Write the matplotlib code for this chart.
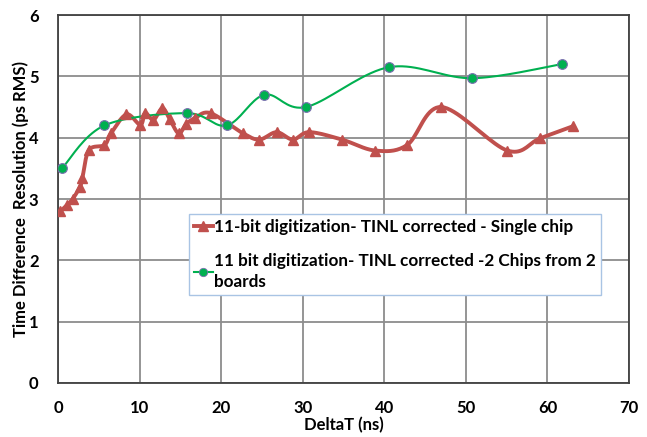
import numpy as np
import matplotlib
matplotlib.use("Agg")
import matplotlib.pyplot as plt
from matplotlib.lines import Line2D

plt.rcParams['font.family'] = ['Lato', 'DejaVu Sans']
plt.rcParams['font.weight'] = 'bold'

# Data
red_x = [0.3, 1.1, 1.8, 2.7, 3.0, 3.8, 5.7, 6.5, 8.4, 10.1, 10.7, 11.7, 12.8, 13.7,
         14.8, 15.7, 16.8, 18.7, 22.7, 24.7, 26.8, 28.8, 30.8, 34.8, 38.9, 42.8,
         47.0, 55.1, 59.1, 63.2]
red_y = [2.8, 2.9, 3.0, 3.2, 3.35, 3.8, 3.88, 4.07, 4.38, 4.21, 4.4, 4.29, 4.48, 4.3,
         4.07, 4.22, 4.32, 4.4, 4.07, 3.97, 4.09, 3.97, 4.09, 3.97, 3.79, 3.88,
         4.5, 3.79, 3.99, 4.19]
green_x = [0.5, 5.7, 15.8, 20.7, 25.3, 30.4, 40.6, 50.8, 61.8]
green_y = [3.5, 4.2, 4.4, 4.2, 4.7, 4.5, 5.15, 4.97, 5.2]

red_label = "11-bit digitization- TINL corrected - Single chip"
green_label = "11 bit digitization- TINL corrected -2 Chips from 2\nboards"
x_ticks = [0, 10, 20, 30, 40, 50, 60, 70]
y_ticks = [0, 1, 2, 3, 4, 5, 6]

RED = '#C0504D'
GREEN = '#00B050'

fig = plt.figure(figsize=(6.47, 4.37), dpi=100)
ax = fig.add_axes([0.0896, 0.1236, 0.8825, 0.842])
ax.set_xlim(0, 70)
ax.set_ylim(0, 6)


def smooth(xs, ys, n=20):
    # Bezier smoothing (Excel-like) done in scaled coordinates
    sx, sy = 571.0 / 70.0, 368.0 / 6.0
    P = np.column_stack([np.asarray(xs) * sx, np.asarray(ys) * sy])
    out = [P[0]]
    m = len(P)
    for i in range(m - 1):
        p0 = P[i - 1] if i > 0 else P[i]
        p1 = P[i]
        p2 = P[i + 1]
        p3 = P[i + 2] if i + 2 < m else P[i + 1]
        c1 = p1 + (p2 - p0) / 6.0
        c2 = p2 - (p3 - p1) / 6.0
        t = np.linspace(0, 1, n)[1:, None]
        seg = ((1 - t) ** 3) * p1 + 3 * ((1 - t) ** 2) * t * c1 + 3 * (1 - t) * t ** 2 * c2 + t ** 3 * p2
        out.extend(seg)
    out = np.array(out)
    return out[:, 0] / sx, out[:, 1] / sy


ax.grid(True, color='#8c8c8c', linewidth=1.3)
ax.set_axisbelow(True)

rx, ry = smooth(red_x, red_y)
ax.plot(rx, ry, color=RED, linewidth=2.8, zorder=3, solid_capstyle='round')
ax.plot(red_x, red_y, linestyle='none', marker='^', markersize=7.5,
        color=RED, markeredgecolor=RED, zorder=4)

gx, gy = smooth(green_x, green_y)
ax.plot(gx, gy, color=GREEN, linewidth=1.5, zorder=3)
ax.plot(green_x, green_y, linestyle='none', marker='o', markersize=7,
        color=GREEN, markeredgecolor='#7a6fb0', markeredgewidth=0.8, zorder=5)

ax.set_xticks(x_ticks)
ax.set_yticks(y_ticks)
ax.tick_params(length=0, labelsize=12)
ax.tick_params(axis='x', pad=12)
ax.tick_params(axis='y', pad=14)
for lab in ax.get_xticklabels() + ax.get_yticklabels():
    lab.set_fontweight('bold')

for s in ax.spines.values():
    s.set_color('#404040')
    s.set_linewidth(1.3)

ax.set_ylabel("Time Difference  Resolution (ps RMS)", fontsize=12, fontweight='bold', labelpad=0)
ax.set_xlabel("DeltaT (ns)", fontsize=12, fontweight='bold', labelpad=1)

handles = [
    Line2D([], [], color=RED, linewidth=2.8, marker='^', markersize=7.5),
    Line2D([], [], color=GREEN, linewidth=1.5, marker='o', markersize=6,
           markeredgecolor='#7a6fb0', markeredgewidth=0.6),
]
leg = ax.legend(handles, [red_label, green_label], loc='upper left',
                bbox_to_anchor=(0.229, 0.459), borderaxespad=0, fancybox=False,
                edgecolor='#a9c4e4', framealpha=1,
                handlelength=1.1, handletextpad=0.1, labelspacing=1.05,
                borderpad=0.3, prop={'weight': 'bold', 'size': 12.3})
leg.get_frame().set_linewidth(1.0)
for t in leg.get_texts():
    t.set_linespacing(1.35)

fig.savefig('out.png', dpi=100)
